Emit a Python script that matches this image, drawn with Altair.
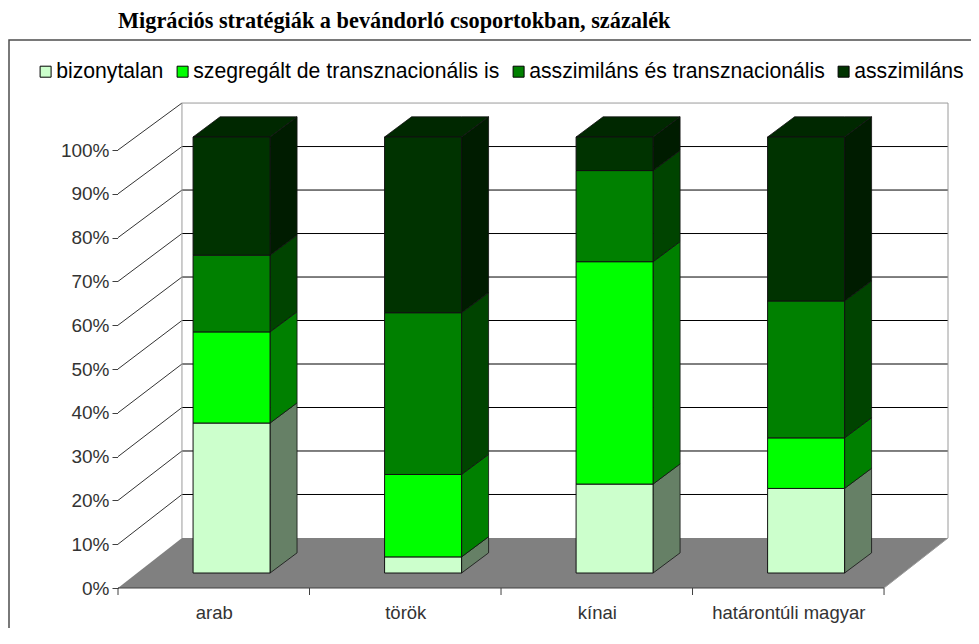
import json
import altair as alt
import pandas as pd

# ---------------- data ----------------
categories = ["arab", "török", "kínai", "határontúli magyar"]
series = [
    "bizonytalan",
    "szegregált de transznacionális is",
    "asszimiláns és transznacionális",
    "asszimiláns",
]
bizonytalan = [34.4, 3.7, 20.4, 19.4]
szegregalt = [20.9, 18.9, 51.0, 11.6]
asszim_transz = [17.6, 37.1, 20.9, 31.4]
asszimilans = [27.1, 40.3, 7.7, 37.6]
y_ticks = list(range(0, 101, 10))
title_text = "Migrációs stratégiák a bevándorló csoportokban, százalék"

# ---------------- style ----------------
front_colors = ["#CCFFCC", "#00FF00", "#008000", "#003300"]
side_colors = ["#668066", "#008000", "#004400", "#001c00"]
top_colors = ["#a3cca3", "#00cc00", "#006600", "#002800"]

# pseudo-3D geometry (x in category units, y in percent units)
N = len(categories)
DEPTH_X, DEPTH_Y = 0.334, 11.42       # floor / wall depth
BACK_K = 0.993                         # back-wall percent scale
BAR_L, BAR_R = 0.392, 0.794            # bar front face inside each category
BAR_DX, BAR_DY = 0.141, 4.6            # bar depth
FRONT_Y0, FRONT_K = 3.42, 0.9955       # bar front-face percent mapping

W, H = 830, 438
PAD = {"left": 110, "top": 142, "right": 23, "bottom": 40}

vals = [bizonytalan, szegregalt, asszim_transz, asszimilans]

rows_front, rows_side, rows_top = [], [], []
for i, cat in enumerate(categories):
    cum = 0.0
    xl, xr = i + BAR_L, i + BAR_R
    last = 0
    for j, s in enumerate(series):
        v = vals[j][i]
        lo = FRONT_Y0 + FRONT_K * cum
        hi = FRONT_Y0 + FRONT_K * (cum + v)
        cum += v
        if v > 0:
            last = j
        rows_front.append(dict(cat=cat, series=s, x=xl, x2=xr, y=lo, y2=hi))
        face = f"{i}-{j}"
        rows_side.append(dict(face=face, col=side_colors[j], x=xr, y=lo, y2=hi))
        rows_side.append(dict(face=face, col=side_colors[j], x=xr + BAR_DX,
                              y=lo + BAR_DY, y2=hi + BAR_DY))
    t = FRONT_Y0 + FRONT_K * cum
    tc = top_colors[last]
    rows_top += [
        dict(bar=i, col=tc, x=xl, y=t, y2=t),
        dict(bar=i, col=tc, x=xl + BAR_DX, y=t, y2=t + BAR_DY),
        dict(bar=i, col=tc, x=xr, y=t, y2=t + BAR_DY),
        dict(bar=i, col=tc, x=xr + BAR_DX, y=t + BAR_DY, y2=t + BAR_DY),
    ]

df_front = pd.DataFrame(rows_front)
df_side = pd.DataFrame(rows_side)
df_top = pd.DataFrame(rows_top)

def back(k):
    return DEPTH_Y + BACK_K * k

df_backwall = pd.DataFrame([dict(x=DEPTH_X, x2=N + DEPTH_X, y=back(0), y2=back(100))])
df_leftwall = pd.DataFrame([
    dict(x=0, y=0, y2=100),
    dict(x=DEPTH_X, y=back(0), y2=back(100)),
])
df_floor = pd.DataFrame([
    dict(x=0, y=0, y2=0),
    dict(x=DEPTH_X, y=0, y2=back(0)),
    dict(x=N, y=0, y2=back(0)),
    dict(x=N + DEPTH_X, y=back(0), y2=back(0)),
])
df_grid = pd.DataFrame([dict(x=DEPTH_X, x2=N + DEPTH_X, y=back(k)) for k in y_ticks[1:-1]])
df_diag = pd.DataFrame([dict(x=0, x2=DEPTH_X, y=k, y2=back(k)) for k in y_ticks[1:]])
df_edges = pd.DataFrame([
    dict(x=DEPTH_X, x2=DEPTH_X, y=back(0), y2=back(100)),
    dict(x=N + DEPTH_X, x2=N + DEPTH_X, y=back(0), y2=back(100)),
    dict(x=DEPTH_X, x2=N + DEPTH_X, y=back(100), y2=back(100)),
    dict(x=N, x2=N + DEPTH_X, y=0, y2=back(0)),
])
df_xaxis = pd.DataFrame([dict(x=0, x2=N, y=0)])
df_xticks = pd.DataFrame({"x": list(range(N + 1))})
df_one = pd.DataFrame([{"a": 1}])

xs = alt.Scale(domain=[0, N + DEPTH_X], nice=False, zero=False)
ys = alt.Scale(domain=[0, 100], nice=False, zero=False)

FONT = "Liberation Sans"
label_expr = json.dumps(categories, ensure_ascii=False) + "[floor(datum.value)]"

x_axis = alt.Axis(values=[i + 0.5 for i in range(N)], labelExpr=label_expr,
                  domain=False, ticks=False, grid=False, title=None,
                  labelFont=FONT, labelFontSize=18.5, labelColor="#333333",
                  labelPadding=15, labelAngle=0)
y_axis = alt.Axis(values=y_ticks, labelExpr="datum.value + '%'", grid=False,
                  title=None, tickSize=6, tickColor="#404040", domainColor="#404040",
                  labelFont=FONT, labelFontSize=19, labelColor="#333333",
                  labelPadding=3)

def X(f="x"):
    return alt.X(f"{f}:Q", scale=xs, axis=x_axis)

def Y(f="y"):
    return alt.Y(f"{f}:Q", scale=ys, axis=y_axis, stack=None)

border = alt.Chart(df_one).mark_rect(filled=False, stroke="#4d4d4d", strokeWidth=1.5).encode(
    x=alt.value(-109), x2=alt.value(2000), y=alt.value(-110), y2=alt.value(2000))

backwall = alt.Chart(df_backwall).mark_rect(color="white").encode(
    x=X(), x2="x2:Q", y=Y(), y2="y2:Q")

leftwall = alt.Chart(df_leftwall).mark_area(color="white").encode(
    x=X(), y=Y(), y2="y2:Q")

floor = alt.Chart(df_floor).mark_area(color="#808080").encode(
    x=X(), y=Y(), y2="y2:Q")

grid = alt.Chart(df_grid).mark_rule(color="#000000", strokeWidth=1).encode(
    x=X(), x2="x2:Q", y=Y())

diag = alt.Chart(df_diag).mark_rule(color="#333333", strokeWidth=1).encode(
    x=X(), x2="x2:Q", y=Y(), y2="y2:Q")

edges = alt.Chart(df_edges).mark_rule(color="#9a9a9a", strokeWidth=1).encode(
    x=X(), x2="x2:Q", y=Y(), y2="y2:Q")

xaxis_line = alt.Chart(df_xaxis).mark_rule(color="#404040", strokeWidth=1).encode(
    x=X(), x2="x2:Q", y=Y())

xticks = alt.Chart(df_xticks).mark_rule(color="#404040", strokeWidth=1).encode(
    x=X(), y=alt.value(H), y2=alt.value(H + 7))

side = alt.Chart(df_side).mark_area(stroke="#111111", strokeWidth=0.8).encode(
    x=X(), y=Y(), y2="y2:Q", detail="face:N",
    fill=alt.Fill("col:N", scale=None))

top = alt.Chart(df_top).mark_area(stroke="#111111", strokeWidth=0.8).encode(
    x=X(), y=Y(), y2="y2:Q", detail="bar:N",
    fill=alt.Fill("col:N", scale=None))

front = alt.Chart(df_front).mark_rect(stroke="#111111", strokeWidth=1).encode(
    x=X(), x2="x2:Q", y=Y(), y2="y2:Q",
    color=alt.Color("series:N",
                    scale=alt.Scale(domain=series, range=front_colors),
                    sort=series,
                    legend=alt.Legend(orient="none", legendX=-83, legendY=-89,
                                      direction="horizontal", title=None,
                                      symbolType="square", symbolSize=121,
                                      symbolStrokeColor="black", symbolStrokeWidth=1,
                                      symbolOpacity=1,
                                      labelFont=FONT, labelFontSize=21.2,
                                      labelColor="black", labelOffset=0,
                                      columnPadding=8, padding=0, labelLimit=0)))

chart = alt.layer(
    border, backwall, leftwall, floor, grid, diag, edges,
    side, top, front, xaxis_line, xticks,
).properties(
    width=W, height=H,
    autosize=alt.AutoSizeParams(type="none"),
    padding=PAD,
    title=alt.Title(title_text, anchor="start", frame="group",
                    font="Liberation Serif", fontSize=22.3, fontWeight="bold",
                    color="black", offset=7),
).configure_view(stroke=None)

chart.save("out.html", embed_options={"renderer": "svg", "actions": False})
